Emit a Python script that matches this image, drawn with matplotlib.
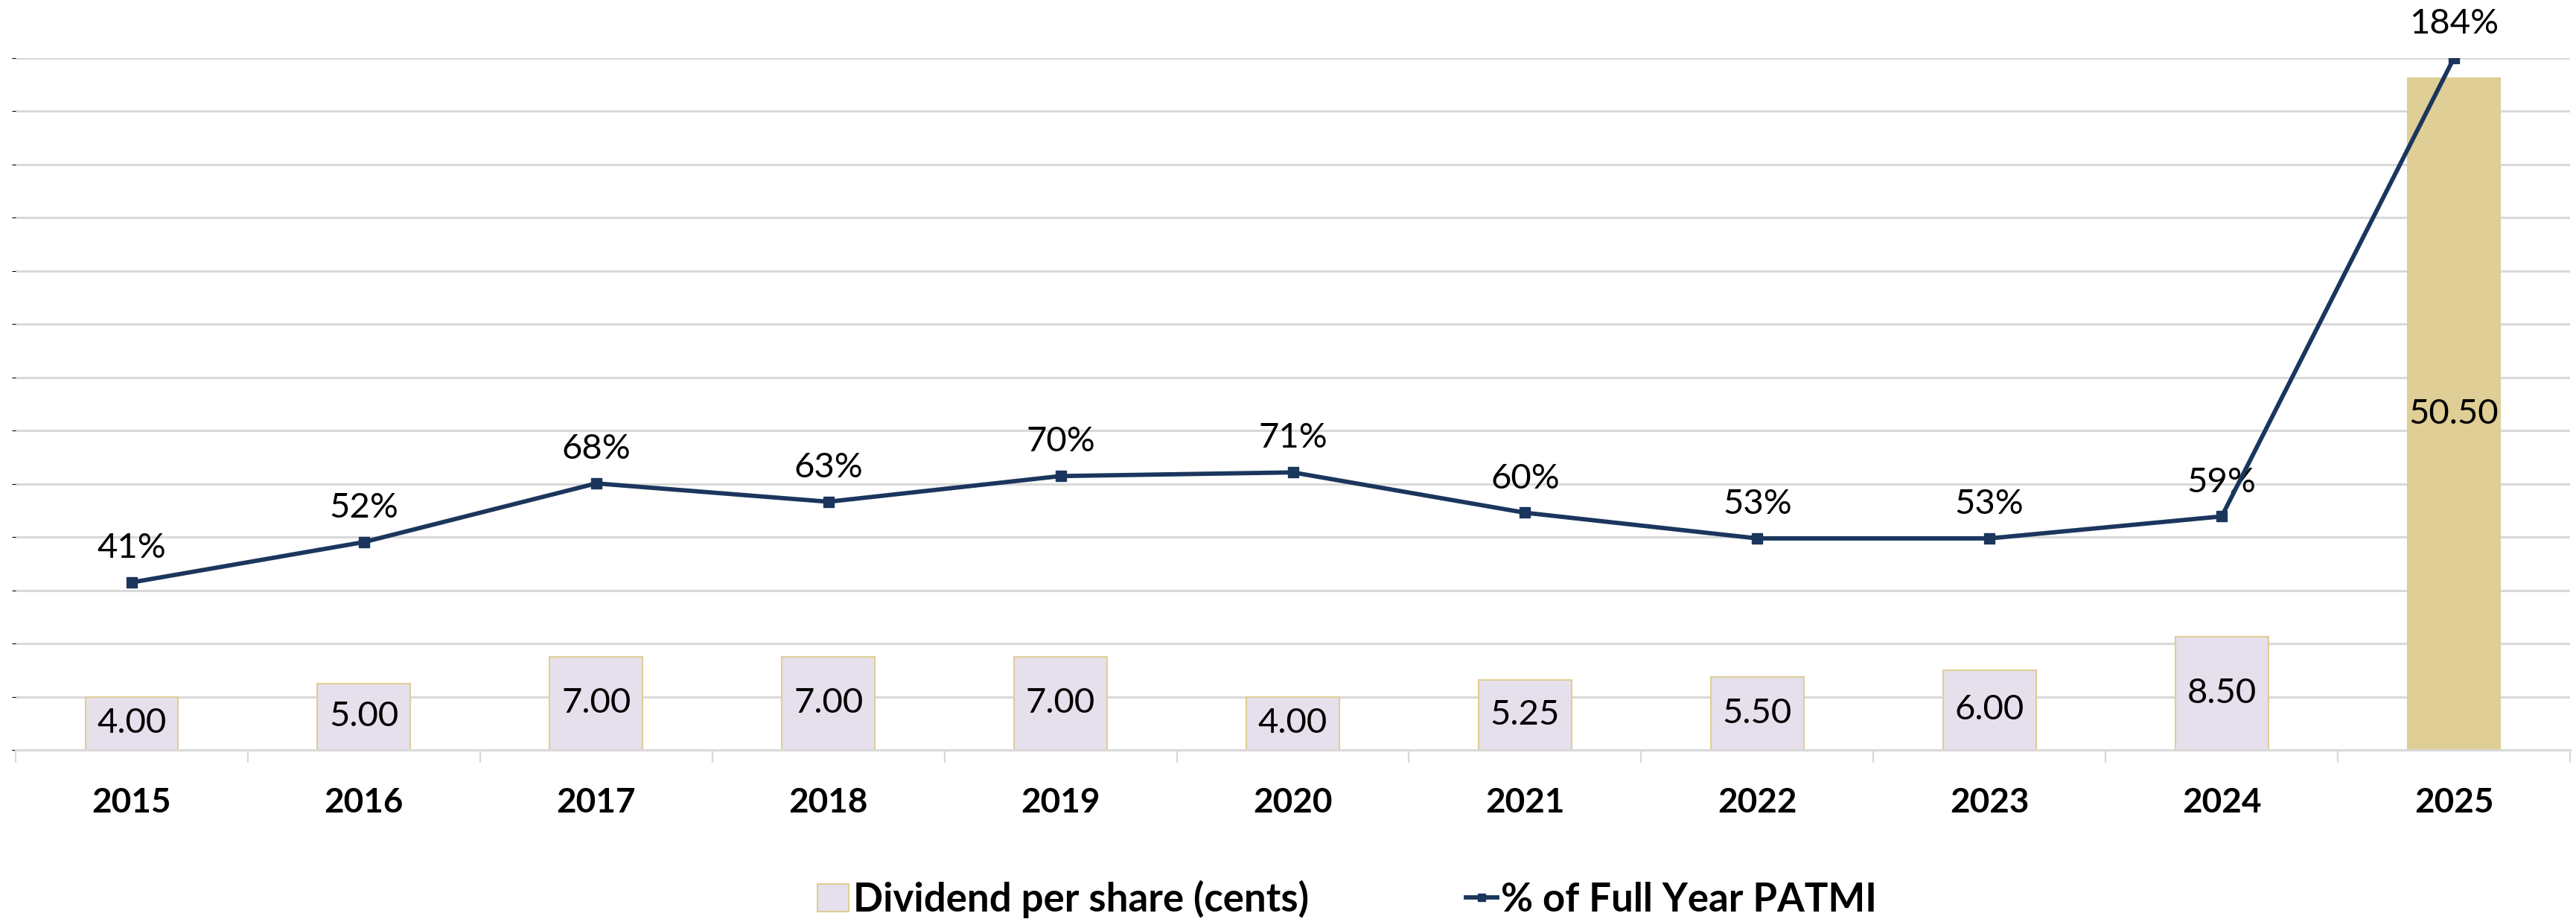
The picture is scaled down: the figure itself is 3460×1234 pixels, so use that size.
import matplotlib

matplotlib.use("Agg")
import matplotlib.pyplot as plt
from matplotlib.lines import Line2D
from matplotlib.patches import Patch

plt.rcParams["font.family"] = ["Lato", "DejaVu Sans"]

years = ["2015", "2016", "2017", "2018", "2019", "2020",
         "2021", "2022", "2023", "2024", "2025"]
dividend = [4.00, 5.00, 7.00, 7.00, 7.00, 4.00, 5.25, 5.50, 6.00, 8.50, 50.50]
payout_pct = [41, 52, 68, 63, 70, 71, 60, 53, 53, 59, 184]

LAVENDER = "#E5E0EC"
GOLD = "#DFCE96"
NAVY = "#1B365D"
GRID = "#D9D9D9"

W, H = 3460, 1234
fig = plt.figure(figsize=(W / 100, H / 100), dpi=100)
ax = fig.add_axes([21 / W, (H - 1007) / H, (3452 - 21) / W, (1007 - 78) / H])

x = list(range(len(years)))
face = [LAVENDER] * (len(years) - 1) + [GOLD]
bars = ax.bar(x, dividend, width=0.4, color=face, edgecolor=GOLD,
              linewidth=1.5, zorder=2)
for rect, v in zip(bars, dividend):
    ax.text(rect.get_x() + rect.get_width() / 2, v / 2, f"{v:.2f}",
            ha="center", va="center", fontsize=34, color="black", zorder=3)

ax.set_xlim(-0.5, len(years) - 0.5)
ax.set_ylim(0, 52)
ax.set_yticks(range(0, 53, 4))
ax.yaxis.grid(True, color=GRID, linewidth=2.2, zorder=0)
ax.set_axisbelow(True)
ax.tick_params(axis="y", left=False, labelleft=False)
ax.set_xticks(x)
ax.set_xticklabels(years, fontsize=33, fontweight="bold")
ax.set_xticks([i - 0.5 for i in range(len(years) + 1)], minor=True)
ax.tick_params(axis="x", which="major", length=0, pad=36)
ax.tick_params(axis="x", which="minor", length=12, width=1.6, color=GRID)
for side in ("top", "left", "right"):
    ax.spines[side].set_visible(False)
ax.spines["bottom"].set_color(GRID)
ax.spines["bottom"].set_linewidth(2.2)

ax2 = ax.twinx()
ax2.set_ylim(-4.7, 184)
ax2.plot(x, payout_pct, color=NAVY, linewidth=4.2, marker="s",
         markersize=10, zorder=4)
for xi, p in zip(x, payout_pct):
    ax2.annotate(f"{p}%", (xi, p), xytext=(0, 33), textcoords="offset points",
                 ha="center", va="center", fontsize=34, color="black")
ax2.set_yticks([])
for side in ("top", "left", "right", "bottom"):
    ax2.spines[side].set_visible(False)

handles = [
    Patch(facecolor=LAVENDER, edgecolor=GOLD, linewidth=1.5),
    Line2D([], [], color=NAVY, linewidth=4.2, marker="s", markersize=7),
]
fig.legend(handles, ["Dividend per share (cents)", "% of Full Year PATMI"],
           loc="center", bbox_to_anchor=(0.523, 27 / H), ncol=2, frameon=False,
           prop={"size": 38, "weight": "bold"}, handlelength=0.8,
           handletextpad=0.1, columnspacing=4.0)

fig.savefig("out.png", dpi=100)
